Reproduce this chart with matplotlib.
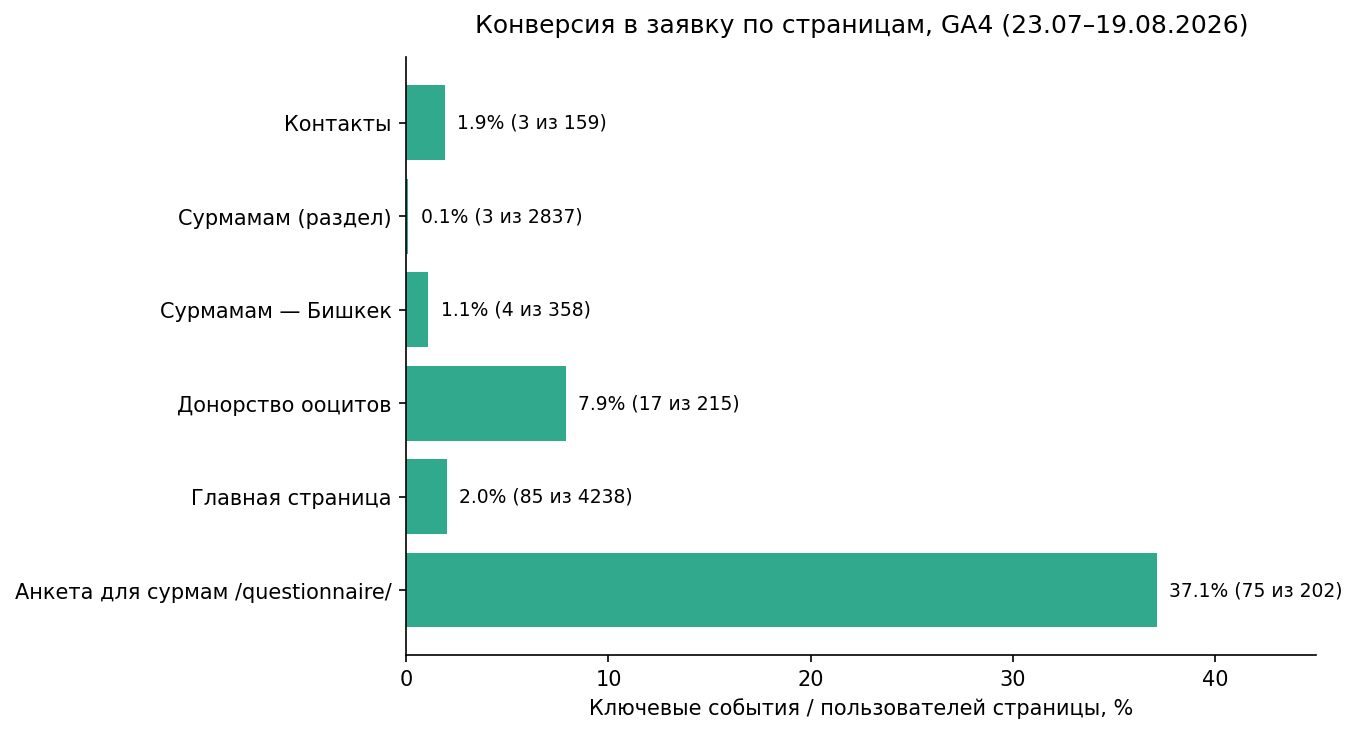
import matplotlib
matplotlib.use("Agg")
import matplotlib.pyplot as plt

pages = ["Анкета для сурмам /questionnaire/", "Главная страница", "Донорство ооцитов",
         "Сурмамам — Бишкек", "Сурмамам (раздел)", "Контакты"]
conv = [37.1, 2.0, 7.9, 1.1, 0.1, 1.9]
events = [75, 85, 17, 4, 3, 3]
users = [202, 4238, 215, 358, 2837, 159]

fig, ax = plt.subplots(figsize=(9.05, 4.89), dpi=150)
ax.barh(pages, conv, height=0.8, color="#31a98c")
for i, (c, e, u) in enumerate(zip(conv, events, users)):
    ax.annotate(f"{c:.1f}% ({e} из {u})", xy=(c, i), xytext=(6, 0),
                textcoords="offset points", va="center", ha="left", fontsize=9)
ax.set_xlim(0, 45)
ax.set_ylim(-0.69, 5.7)
ax.set_xticks([0, 10, 20, 30, 40])
ax.spines["top"].set_visible(False)
ax.spines["right"].set_visible(False)
ax.tick_params(labelsize=10)
ax.set_xlabel("Ключевые события / пользователей страницы, %", fontsize=10)
ax.set_title("Конверсия в заявку по страницам, GA4 (23.07–19.08.2026)", fontsize=12, pad=12)
fig.subplots_adjust(left=406/1357, right=1316/1357, top=1-58/734, bottom=1-655.5/734)
fig.savefig("out.png", dpi=150)
